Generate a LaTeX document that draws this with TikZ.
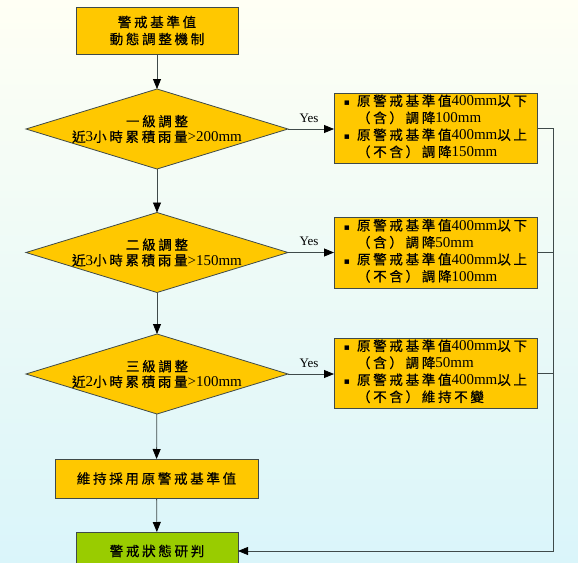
\documentclass[tikz,border=0pt]{standalone}
\usepackage{fontspec}
\setmainfont{Liberation Serif}
\newfontfamily\cjk[Scale=0.9,LetterSpace=20,FakeBold=0.6]{Noto Sans CJK TC}
\newfontfamily\symfont{DejaVu Sans}
\usetikzlibrary{shapes.geometric,arrows.meta}
\definecolor{gold}{HTML}{FFC800}
\definecolor{lgreen}{HTML}{99CC00}
\definecolor{edgec}{HTML}{3F4A4A}
\definecolor{bgtop}{HTML}{FFFFF4}
\definecolor{bgbot}{HTML}{DAF5FA}
\newcommand\zh[1]{{\cjk #1}}
\newcommand\bul{{\symfont\fontsize{9}{9}\selectfont ▪}}
\tikzset{
  ybox/.style={draw=edgec, line width=0.8pt, fill=gold, inner sep=0pt, outer sep=0pt, align=center, font=\fontsize{15}{17}\selectfont},
  gbox/.style={ybox, fill=lgreen},
  dia/.style={diamond, draw=edgec, fill=gold, line width=0.8pt, minimum width=262pt, minimum height=80pt, inner sep=0pt, outer sep=0pt},
  txt/.style={font=\fontsize{15}{15.5}\selectfont, align=center, inner sep=0pt},
  link/.style={draw=edgec, line width=0.8pt},
  arr/.style={link, -{Triangle[length=10pt,width=8pt,black]}},
  yes/.style={font=\fontsize{13}{13}\selectfont, inner sep=1pt},
}
\begin{document}
\begin{tikzpicture}[x=1pt,y=-1pt]
\useasboundingbox (0,0) rectangle (578,579);
\shade[top color=bgtop, bottom color=bgbot] (0,0) rectangle (578,563);

\node[ybox, minimum width=162pt, minimum height=47pt] (top) at (157,30.5) {\zh{警戒基準值}\\\zh{動態調整機制}};

\node[dia] (d1) at (157,129) {};
\node[txt] (d1t) at (157,129) {\zh{一級調整}\\\zh{近}3\zh{小時累積雨量}>200mm};
\node[dia] (d2) at (157,252.5) {};
\node[txt] (d2t) at (157,252.5) {\zh{二級調整}\\\zh{近}3\zh{小時累積雨量}>150mm};
\node[dia] (d3) at (157,374) {};
\node[txt] (d3t) at (157,374) {\zh{三級調整}\\\zh{近}2\zh{小時累積雨量}>100mm};

\node[ybox, minimum width=203pt, minimum height=70pt] (b1) at (435.5,128) {%
\begin{tabular}{@{}c@{\hspace{7pt}}l@{}}
\bul & \zh{原警戒基準值}400mm\zh{以下}\\
 & \zh{（含）調降}100mm\\
\bul & \zh{原警戒基準值}400mm\zh{以上}\\
 & \zh{（不含）調降}150mm
\end{tabular}};
\node[ybox, minimum width=203pt, minimum height=71pt] (b2) at (435.5,252.5) {%
\begin{tabular}{@{}c@{\hspace{7pt}}l@{}}
\bul & \zh{原警戒基準值}400mm\zh{以下}\\
 & \zh{（含）調降}50mm\\
\bul & \zh{原警戒基準值}400mm\zh{以上}\\
 & \zh{（不含）調降}100mm
\end{tabular}};
\node[ybox, minimum width=203pt, minimum height=70pt] (b3) at (435.5,373) {%
\begin{tabular}{@{}c@{\hspace{7pt}}l@{}}
\bul & \zh{原警戒基準值}400mm\zh{以下}\\
 & \zh{（含）調降}50mm\\
\bul & \zh{原警戒基準值}400mm\zh{以上}\\
 & \zh{（不含）維持不變}
\end{tabular}};

\node[ybox, minimum width=203pt, minimum height=39pt] (keep) at (156.5,478.5) {\zh{維持採用原警戒基準值}};
\node[gbox, minimum width=162pt, minimum height=38pt] (judge) at (157,551) {\zh{警戒狀態研判}};

\fill[white] (0,563) rectangle (578,579);

\node[yes] (y1) at (309,118) {Yes};
\node[yes] (y2) at (309,241) {Yes};
\node[yes] (y3) at (309,363) {Yes};

\coordinate (bus) at (553,128);
\draw[arr] (top) -- (d1);
\draw[arr] (d1) -- (d2);
\draw[arr] (d2) -- (d3);
\draw[arr] (d3) -- (keep);
\draw[arr] (keep) -- (judge);
\draw[arr] (d1.east) -- (d1.east -| b1.west);
\draw[arr] (d2.east) -- (d2.east -| b2.west);
\draw[arr] (d3.east) -- (d3.east -| b3.west);
\draw[arr] (b1.east) -- (bus) |- (judge.east);
\draw[link] (b2.east) -- (b2.east -| bus);
\draw[link] (b3.east) -- (b3.east -| bus);
\end{tikzpicture}
\end{document}
